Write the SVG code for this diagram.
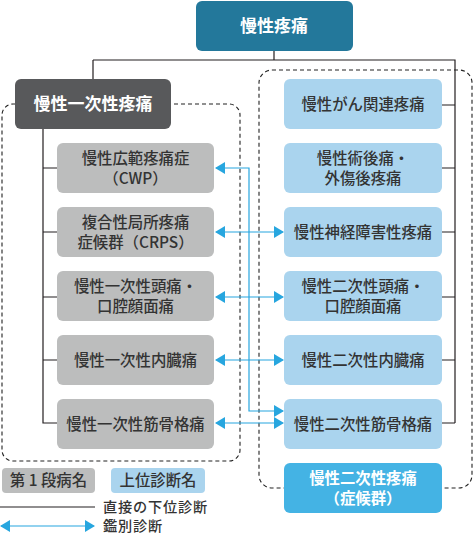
<svg xmlns="http://www.w3.org/2000/svg" width="473" height="534" viewBox="0 0 473 534">
<style>
text{font-family:"Noto Sans CJK JP","Noto Sans",sans-serif;text-anchor:middle}
.t{font-size:15.4px;fill:#333;font-weight:500}
.w{font-size:17px;fill:#fff;font-weight:bold}
.wb{font-size:15.4px;fill:#fff;font-weight:bold}
.gray{fill:#BCBDBD}
.lb{fill:#AAD4EE}
.ln{stroke:#231F20;stroke-width:1.2;fill:none}
.ar{stroke:#27A6DF;stroke-width:1.2;fill:none;marker-start:url(#ah);marker-end:url(#ah)}
.dash{stroke:#222;stroke-width:1.1;fill:none;stroke-dasharray:4 3}
.lg{font-size:14.2px;fill:#333;font-weight:500;text-anchor:start;letter-spacing:0.8px}
</style>
<defs>
<marker id="ah" markerUnits="userSpaceOnUse" markerWidth="10" markerHeight="12" refX="9" refY="6" orient="auto-start-reverse">
<path d="M0,0 L10,6 L0,12 Z" fill="#27A6DF"/>
</marker>
</defs>
<rect class="dash" x="2" y="104" width="238" height="357" rx="11"/>
<rect class="dash" x="259" y="70" width="213" height="418" rx="13"/>
<g id="connectors">
<path class="ln" d="M274,51 V60 M93,60 H455 V423 M93,60 V79"/>
<path class="ln" d="M442,105 H455 M442,168 H455 M442,232 H455 M442,297 H455 M442,360 H455 M442,423 H455"/>
<path class="ln" d="M43,129 V423 H57 M43,168 H57 M43,232 H57 M43,297 H57 M43,360 H57"/>
<path class="ar" d="M216,232 H283"/>
<path class="ar" d="M216,297 H283"/>
<path class="ar" d="M216,360 H283"/>
<path class="ar" d="M216,423 H283"/>
<path class="ar" d="M216,168 H249 V411 H283"/>
</g>
<g id="root"><rect x="196" y="1" width="157" height="50" rx="6" fill="#23789B"/><text class="w" x="274" y="32">慢性疼痛</text></g>
<g id="primary"><rect x="15" y="79" width="156" height="50" rx="6" fill="#58595B"/><text class="w" x="93" y="110">慢性一次性疼痛</text></g>
<g id="cwp"><rect class="gray" x="57" y="143" width="157" height="50" rx="6"/><text class="t" x="135.5" y="164">慢性広範疼痛症</text><text class="t" x="135.5" y="184">（CWP）</text></g>
<g id="crps"><rect class="gray" x="57" y="207" width="157" height="50" rx="6"/><text class="t" x="135.5" y="228">複合性局所疼痛</text><text class="t" x="135.5" y="248">症候群（CRPS）</text></g>
<g id="p_head"><rect class="gray" x="57" y="271" width="157" height="50" rx="6"/><text class="t" x="135.5" y="292">慢性一次性頭痛・</text><text class="t" x="135.5" y="312">口腔顔面痛</text></g>
<g id="p_visc"><rect class="gray" x="57" y="335" width="157" height="50" rx="6"/><text class="t" x="135.5" y="365.5">慢性一次性内臓痛</text></g>
<g id="p_msk"><rect class="gray" x="57" y="399" width="157" height="50" rx="6"/><text class="t" x="135.5" y="429.5">慢性一次性筋骨格痛</text></g>
<g id="cancer"><rect class="lb" x="284" y="79" width="158" height="50" rx="6"/><text class="t" x="363" y="109.5">慢性がん関連疼痛</text></g>
<g id="postop"><rect class="lb" x="284" y="143" width="158" height="50" rx="6"/><text class="t" x="363" y="164">慢性術後痛・</text><text class="t" x="363" y="184">外傷後疼痛</text></g>
<g id="neuro"><rect class="lb" x="284" y="207" width="158" height="50" rx="6"/><text class="t" x="363" y="237.5">慢性神経障害性疼痛</text></g>
<g id="s_head"><rect class="lb" x="284" y="271" width="158" height="50" rx="6"/><text class="t" x="363" y="292">慢性二次性頭痛・</text><text class="t" x="363" y="312">口腔顔面痛</text></g>
<g id="s_visc"><rect class="lb" x="284" y="335" width="158" height="50" rx="6"/><text class="t" x="363" y="365.5">慢性二次性内臓痛</text></g>
<g id="s_msk"><rect class="lb" x="284" y="399" width="158" height="50" rx="6"/><text class="t" x="363" y="429.5">慢性二次性筋骨格痛</text></g>
<g id="secondary"><rect x="284" y="463" width="158" height="50" rx="6" fill="#44B3E4"/><text class="wb" x="363" y="484">慢性二次性疼痛</text><text class="wb" x="363" y="504">（症候群）</text></g>
<g id="legend">
<rect class="gray" x="2" y="468" width="93" height="25" rx="4"/><text class="t" x="48.5" y="486">第 1 段病名</text>
<rect class="lb" x="111" y="468" width="94" height="25" rx="4"/><text class="t" x="158" y="486">上位診断名</text>
<path class="ln" d="M0,507 H95"/><text class="lg" x="103" y="511.5">直接の下位診断</text>
<path class="ar" d="M1,526 H94"/><text class="lg" x="103" y="531">鑑別診断</text>
</g>
</svg>
